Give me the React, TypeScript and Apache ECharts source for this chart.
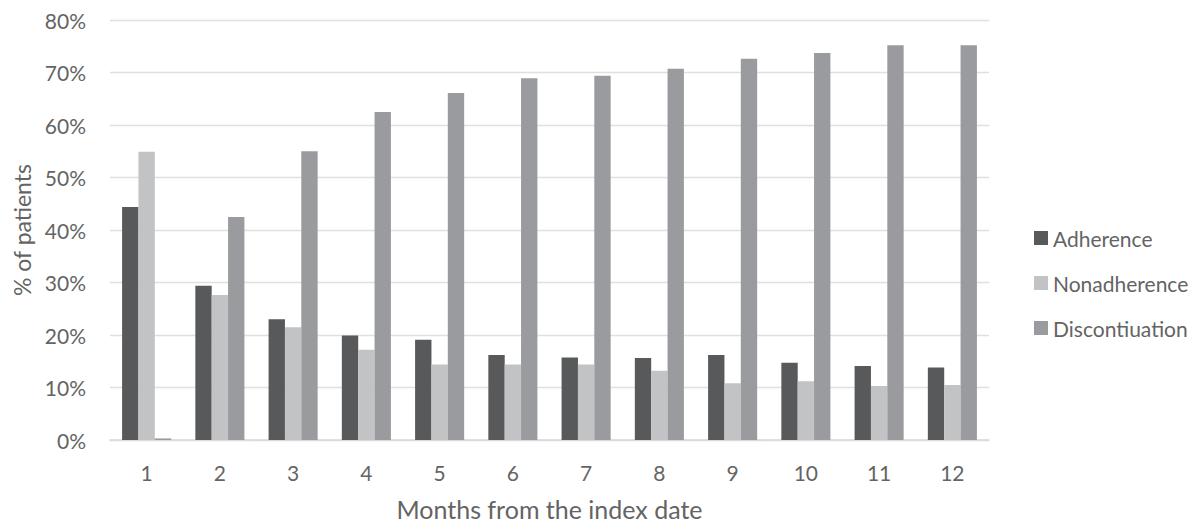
import React, { useEffect, useRef } from "react";
import * as echarts from "echarts";

const months = ["1", "2", "3", "4", "5", "6", "7", "8", "9", "10", "11", "12"];
const adherence = [44.4, 29.4, 23.0, 19.9, 19.1, 16.2, 15.7, 15.6, 16.2, 14.7, 14.1, 13.8];
const nonadherence = [54.9, 27.6, 21.5, 17.2, 14.4, 14.4, 14.4, 13.2, 10.8, 11.2, 10.3, 10.5];
const discontinuation = [0.3, 42.5, 55.0, 62.5, 66.1, 68.9, 69.4, 70.7, 72.6, 73.7, 75.2, 75.2];
const seriesNames = ["Adherence", "Nonadherence", "Discontiuation"];
const seriesColors = ["#58595b", "#c2c3c5", "#9a9b9f"];

const FONT = "Lato";
const TEXT = "#646464";

export default function App() {
  const ref = useRef<HTMLDivElement>(null);
  useEffect(() => {
    if (!ref.current) return;
    const chart = echarts.init(ref.current, undefined, { renderer: "svg" });
    const data = [adherence, nonadherence, discontinuation];
    chart.setOption({
      animation: false,
      textStyle: { fontFamily: FONT },
      grid: { left: 110, right: 213, top: 20, bottom: 81, containLabel: false },
      legend: {
        orient: "vertical",
        left: 1029,
        top: 221,
        itemWidth: 14,
        itemHeight: 14,
        itemGap: 21,
        icon: "rect",
        textStyle: { fontFamily: FONT, fontSize: 21, color: TEXT, lineHeight: 24 },
        data: seriesNames,
      },
      xAxis: {
        type: "category",
        data: months,
        name: "Months from the index date",
        nameLocation: "middle",
        nameGap: 56,
        nameTextStyle: { fontFamily: FONT, fontSize: 25, color: TEXT },
        axisLine: { lineStyle: { color: "#d9d9d9", width: 1.5 } },
        axisTick: { show: false },
        axisLabel: { fontFamily: FONT, fontSize: 21, color: TEXT, margin: 22 },
      },
      yAxis: {
        type: "value",
        min: 0,
        max: 80,
        interval: 10,
        name: "% of patients",
        nameLocation: "middle",
        nameGap: 76,
        nameTextStyle: { fontFamily: FONT, fontSize: 23, color: TEXT },
        axisLine: { show: false },
        axisTick: { show: false },
        axisLabel: { fontFamily: FONT, fontSize: 21, color: TEXT, margin: 24, formatter: "{value}%" },
        splitLine: { lineStyle: { color: "#e0e0e0", width: 1.3 } },
      },
      series: seriesNames.map((name, i) => ({
        name,
        type: "bar",
        data: data[i],
        barGap: "0%",
        barCategoryGap: "33%",
        itemStyle: { color: seriesColors[i] },
      })),
    });
    return () => chart.dispose();
  }, []);
  return <div ref={ref} style={{ width: 1202, height: 526, position: "absolute", left: 0, top: 0 }} />;
}
